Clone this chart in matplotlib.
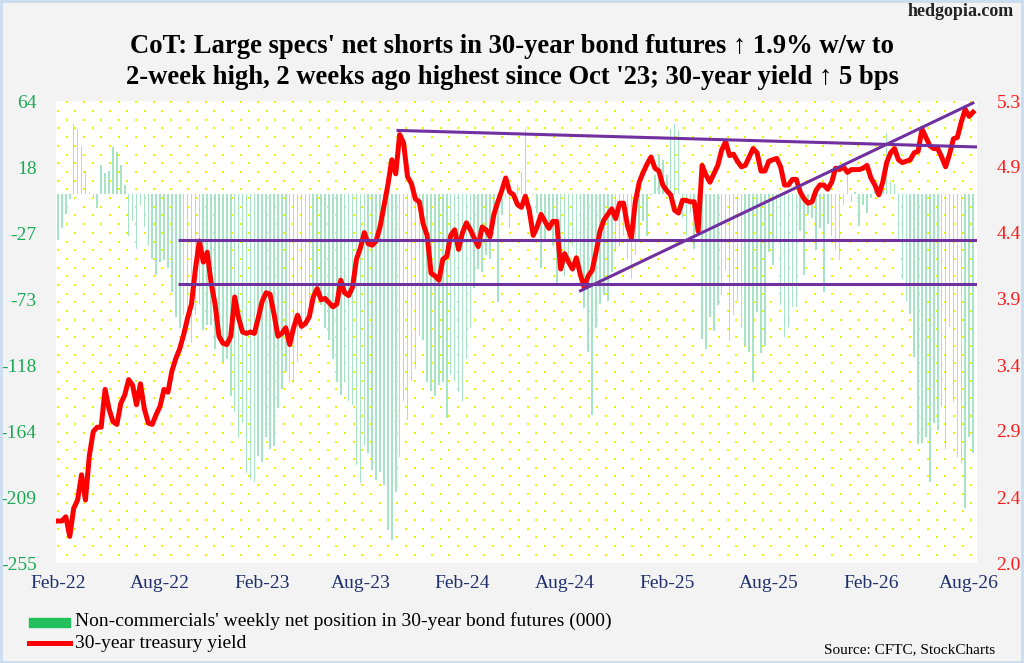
import matplotlib.pyplot as plt
import numpy as np
from matplotlib.patches import Rectangle
from matplotlib.lines import Line2D

plt.rcParams['font.family'] = ['Liberation Serif', 'DejaVu Serif']

# weekly 30-year treasury yield (%), Feb-22 .. Aug-26
yield_30y = [
    2.30, 2.30, 2.33, 2.19, 2.39, 2.45, 2.63, 2.45, 2.77, 2.94,
    2.97, 2.97, 3.24, 3.10, 3.01, 2.99, 3.14, 3.20, 3.31, 3.27,
    3.13, 3.28, 3.10, 3.00, 2.99, 3.06, 3.12, 3.24, 3.22, 3.37,
    3.46, 3.53, 3.63, 3.75, 3.85, 4.10, 4.30, 4.15, 4.22, 4.00,
    3.85, 3.62, 3.57, 3.56, 3.62, 3.90, 3.75, 3.65, 3.64, 3.65,
    3.64, 3.75, 3.87, 3.93, 3.92, 3.78, 3.62, 3.64, 3.68, 3.56,
    3.68, 3.77, 3.69, 3.71, 3.76, 3.90, 3.96, 3.88, 3.89, 3.86,
    3.83, 3.85, 4.02, 3.93, 3.91, 3.97, 4.17, 4.25, 4.36, 4.28,
    4.27, 4.30, 4.40, 4.55, 4.70, 4.88, 4.78, 5.06, 5.00, 4.76,
    4.71, 4.60, 4.58, 4.42, 4.34, 4.07, 4.05, 4.02, 4.17, 4.19,
    4.34, 4.38, 4.24, 4.36, 4.43, 4.38, 4.32, 4.26, 4.40, 4.38,
    4.33, 4.49, 4.58, 4.66, 4.75, 4.65, 4.63, 4.56, 4.54, 4.62,
    4.52, 4.34, 4.40, 4.49, 4.44, 4.39, 4.44, 4.44, 4.10, 4.21,
    4.15, 4.10, 4.18, 4.06, 3.97, 4.05, 4.09, 4.22, 4.37, 4.45,
    4.49, 4.53, 4.46, 4.57, 4.57, 4.41, 4.32, 4.58, 4.72, 4.79,
    4.85, 4.90, 4.82, 4.80, 4.70, 4.66, 4.63, 4.52, 4.50, 4.59,
    4.59, 4.58, 4.58, 4.37, 4.84, 4.77, 4.72, 4.78, 4.84, 4.95,
    5.01, 4.91, 4.92, 4.87, 4.83, 4.84, 4.90, 4.96, 4.93, 4.80,
    4.80, 4.87, 4.88, 4.89, 4.83, 4.70, 4.70, 4.74, 4.74, 4.65,
    4.60, 4.57, 4.58, 4.66, 4.70, 4.70, 4.67, 4.72, 4.82, 4.81,
    4.83, 4.79, 4.81, 4.81, 4.81, 4.82, 4.84, 4.75, 4.70, 4.63,
    4.72, 4.86, 4.93, 4.96, 4.88, 4.86, 4.87, 4.88, 4.93, 4.94,
    5.10, 5.04, 4.98, 4.96, 4.96, 4.90, 4.83, 4.92, 5.03, 5.04,
    5.15, 5.24, 5.19, 5.22,
]

# non-commercials' weekly net position (000 contracts)
net_position = [
    -32, -24, -14, -4, 48, 45, 33, 16, 1, -3,
    -10, 20, 14, 16, 32, 29, 20, 6, -29, -19,
    -38, -8, -23, -36, -45, -56, -47, -46, -51, -68,
    -85, -93, -84, -91, -103, -84, -76, -94, -91, -91,
    -107, -98, -116, -114, -140, -151, -169, -158, -193, -197,
    -199, -181, -185, -168, -176, -174, -148, -135, -123, -130,
    -131, -116, -95, -91, -79, -72, -70, -77, -93, -101,
    -114, -130, -139, -130, -143, -146, -187, -200, -174, -179,
    -191, -198, -192, -201, -232, -239, -206, -182, -143, -156,
    -129, -121, -98, -101, -130, -136, -140, -132, -130, -155,
    -125, -129, -137, -143, -114, -93, -65, -52, -54, -42,
    -45, -13, -75, -15, -3, -24, 1, 6, 15, 45,
    0, -1, -13, -51, -33, -24, -36, -63, -52, -57,
    -47, -36, -49, -61, -79, -109, -153, -93, -76, -70,
    -74, -54, -40, -36, -29, -45, -59, -42, -33, -19,
    -29, -1, 13, 27, 23, 13, 45, 48, 44, -17,
    -29, -13, -38, -5, -100, -107, -85, -95, -77, -70,
    -53, -102, -84, -74, -93, -105, -109, -130, -82, -110,
    -105, -40, -49, -31, -77, -99, -93, -78, -78, -26,
    -56, -15, -17, -39, -24, -68, -21, -29, -39, -46,
    -8, 13, -6, 1, -22, -8, -13, -3, 2, -2,
    4, 42, 9, 7, -33, -59, -74, -83, -113, -173,
    -172, -168, -199, -158, -163, -147, -176, -92, -144, -182,
    -186, -217, -168, -179,
]

weeks = np.arange(len(yield_30y))

tick_weeks = [0, 26, 52, 77, 103, 129, 155, 181, 207, 232]
tick_labels = ['Feb-22', 'Aug-22', 'Feb-23', 'Aug-23', 'Feb-24',
               'Aug-24', 'Feb-25', 'Aug-25', 'Feb-26', 'Aug-26']
left_labels = ['-255', '-209', '-164', '-118', '-73', '-27', '18', '64']
right_labels = ['2.0', '2.4', '2.9', '3.4', '3.9', '4.4', '4.9', '5.3']

# hand-drawn trend lines on the yield: (week, yield) end points
trend_lines = [
    [(30.5, 4.31), (234.8, 4.31)],
    [(30.5, 3.99), (234.3, 3.99)],
    [(86.2, 5.09), (236.3, 4.97)],
    [(132.7, 3.94), (233.3, 5.29)],
]

fig = plt.figure(figsize=(10.24, 6.63), dpi=100, facecolor='#f3f3f3')
ax = fig.add_axes([56 / 1024, 1 - 563 / 663, 921 / 1024, 462 / 663])
ax.set_facecolor('white')

# yellow dotted background
rows, cols = 54, 54
dx, dy = 17.4 / 921, 8.7 / 462
gx, gy = [], []
for i in range(rows):
    off = dx / 2 if i % 2 == 0 else 0.0
    for j in range(cols):
        px = 0.002 + off + j * dx
        py = 1 - 0.003 - i * dy
        if px <= 1 and py >= 0:
            gx.append(px)
            gy.append(py)
ax.scatter(gx, gy, s=2.5, marker='s', color='#f2f200', linewidths=0,
           transform=ax.transAxes, zorder=0)

ax.bar(weeks, net_position, width=0.4, color='#a6e4c6', zorder=1)
ax.set_ylim(-255, 64)
ax.set_xlim(-0.5, 234)
ax.set_yticks(np.linspace(-255, 64, 8))
ax.set_yticklabels(left_labels)
ax.set_xticks(tick_weeks)
ax.set_xticklabels(tick_labels)

ax2 = ax.twinx()
ax2.set_ylim(2.0, 5.3)
ax2.set_yticks(np.linspace(2.0, 5.3, 8))
ax2.set_yticklabels(right_labels)
ax2.plot(weeks, yield_30y, color='#ff0000', lw=3.6, zorder=3,
         solid_joinstyle='round')
for seg in trend_lines:
    xs = [p[0] for p in seg]
    ys = [p[1] for p in seg]
    ax2.plot(xs, ys, color='#7030a0', lw=2.2, zorder=4,
             solid_capstyle='butt')

for a in (ax, ax2):
    for s in a.spines.values():
        s.set_visible(False)
    a.tick_params(length=0)
ax.tick_params(axis='x', colors='#1f2f6b', labelsize=14, pad=9)
ax.tick_params(axis='y', colors='#1aaa55', labelsize=14, pad=14)
ax2.tick_params(axis='y', colors='#ff1a1a', labelsize=14, pad=14)

fig.text(0.5, 1 - 62 / 663,
         "CoT: Large specs' net shorts in 30-year bond futures \u2191 1.9% w/w to\n"
         "2-week high, 2 weeks ago highest since Oct '23; 30-year yield \u2191 5 bps",
         ha='center', va='center', fontsize=19.2, fontweight='bold',
         linespacing=1.27)
fig.text(1014 / 1024, 1 - 12 / 663, 'hedgopia.com', ha='right', va='center',
         fontsize=13, fontweight='bold', color='#222222')

# legend
fig.add_artist(Rectangle((29 / 1024, 1 - 627 / 663), 41 / 1024, 9 / 663,
                         transform=fig.transFigure, color='#22c05c'))
fig.add_artist(Line2D([29 / 1024, 70 / 1024], [1 - 643 / 663, 1 - 643 / 663],
                      transform=fig.transFigure, color='#ff0000', lw=3.6))
fig.text(75 / 1024, 1 - 621 / 663,
         "Non-commercials' weekly net position in 30-year bond futures (000)",
         ha='left', va='center', fontsize=14)
fig.text(75 / 1024, 1 - 643 / 663, '30-year treasury yield',
         ha='left', va='center', fontsize=14)
fig.text(995 / 1024, 1 - 650 / 663, 'Source: CFTC, StockCharts',
         ha='right', va='center', fontsize=11)

fig.add_artist(Rectangle((0.001, 0.002), 0.997, 0.996, transform=fig.transFigure,
                         fill=False, edgecolor='#c9dcf0', lw=2))

fig.savefig('out.png', dpi=100, facecolor=fig.get_facecolor())
